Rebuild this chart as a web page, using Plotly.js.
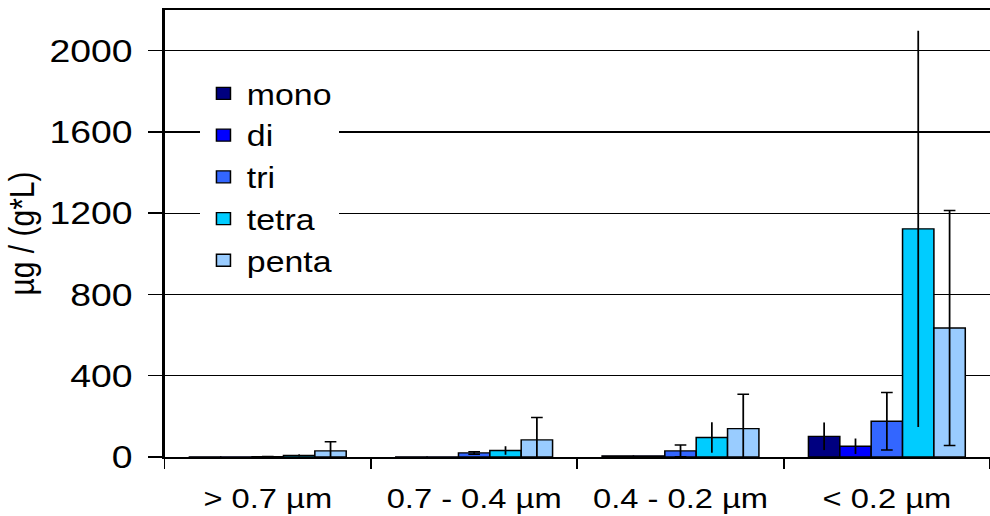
<!DOCTYPE html>
<html>
<head>
<meta charset="utf-8">
<script src="https://cdn.plot.ly/plotly-3.0.1.min.js"></script>
<style>
  html, body { margin: 0; padding: 0; overflow: hidden; background: #fff; }
  #chart { width: 848px; height: 516px; transform: scale(1.1675, 1); transform-origin: 0 0; }
</style>
</head>
<body>
<div id="chart"></div>
<script>
const categories = ['> 0.7 µm', '0.7 - 0.4 µm', '0.4 - 0.2 µm', '< 0.2 µm'];
const seriesNames = ['mono', 'di', 'tri', 'tetra', 'penta'];
const mono  = [1, 1, 6, 102];
const di    = [1, 1, 6, 53];
const tri   = [2, 20, 30, 176];
const tetra = [8, 32, 96, 1123];
const penta = [30, 84, 140, 635];
const monoErr  = [0, 0, 0, 68];
const diErr    = [0, 0, 0, 38];
const triErr   = [0, 6, 29, 141];
const tetraErr = [5, 21, 75, 975];
const pentaErr = [45, 111, 169, 578];
const yTicks = [0, 400, 800, 1200, 1600, 2000];

const values = [mono, di, tri, tetra, penta];
const errors = [monoErr, diErr, triErr, tetraErr, pentaErr];
const colors = ['#000080', '#0000FF', '#3366FF', '#00CCFF', '#99CCFF'];
const capWidths = [0, 0, 5, 0, 5];

const traces = seriesNames.map((name, i) => ({
  type: 'bar',
  name: name,
  legendgroup: name,
  x: categories,
  y: values[i],
  marker: { color: colors[i], line: { color: '#000', width: 1.3 } },
  error_y: { type: 'data', array: errors[i], visible: true, color: '#000', thickness: 1.5, width: capWidths[i] }
}));

const layout = {
  width: 848,
  height: 516,
  margin: { l: 141, r: 0, t: 10, b: 59 },
  paper_bgcolor: '#fff',
  plot_bgcolor: '#fff',
  barmode: 'group',
  bargap: 0.24,
  bargroupgap: 0,
  font: { family: 'Liberation Sans, Arial, sans-serif', color: '#000' },
  showlegend: true,
  legend: {
    x: 0.043, y: 0.87, xanchor: 'left', yanchor: 'top',
    bgcolor: '#fff', borderwidth: 0,
    font: { size: 29, color: '#000' },
    traceorder: 'grouped', tracegroupgap: 1, itemwidth: 30
  },
  xaxis: {
    type: 'category',
    showline: true, linecolor: '#000', linewidth: 2, mirror: true,
    ticks: 'outside', tickson: 'boundaries', ticklen: 10, tickcolor: '#000', tickwidth: 1.5,
    tickfont: { size: 28 },
    ticklabelstandoff: 15,
    showgrid: false, zeroline: false
  },
  yaxis: {
    range: [0, 2200],
    tickvals: yTicks,
    ticktext: yTicks.map(String),
    showline: true, linecolor: '#000', linewidth: 2,
    ticks: 'outside', ticklen: 12, tickcolor: '#000', tickwidth: 1.5,
    tickfont: { size: 32 },
    ticklabelstandoff: 7,
    showgrid: true, gridcolor: '#000', gridwidth: 1.2,
    zeroline: false,
    title: { text: 'µg / (g*L)', font: { size: 30 }, standoff: 4 }
  }
};

Plotly.newPlot('chart', traces, layout, { displayModeBar: false, staticPlot: true });
</script>
</body>
</html>
